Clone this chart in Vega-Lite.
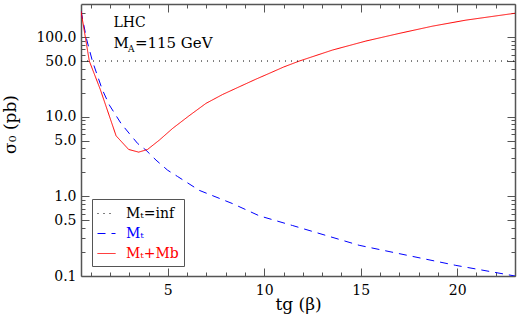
{
  "$schema": "https://vega.github.io/schema/vega-lite/v6.json",
  "width": 434,
  "height": 272,
  "autosize": {"type": "none"},
  "padding": {"left": 81, "top": 4, "right": 4, "bottom": 51},
  "config": {
    "view": {"stroke": null},
    "font": "DejaVu Serif",
    "style": {
      "guide-label": {"font": "DejaVu Serif", "fontWeight": "normal"},
      "guide-title": {"font": "DejaVu Serif", "fontWeight": "normal"}
    },
    "axis": {
      "grid": false,
      "domainColor": "#555555",
      "domainWidth": 1.5,
      "tickColor": "#555555",
      "tickWidth": 1,
      "labelColor": "#000000",
      "titleColor": "#000000",
      "titleFontWeight": "normal",
      "labelOverlap": false,
      "labelFlush": false
    }
  },
  "datasets": {
    "curves": [
      {"series": "inf", "tanb": 0.5, "sigma": 50},
      {"series": "inf", "tanb": 23, "sigma": 50},
      {"series": "mt", "tanb": 0.5, "sigma": 212},
      {"series": "mt", "tanb": 0.8, "sigma": 92},
      {"series": "mt", "tanb": 1.09, "sigma": 50},
      {"series": "mt", "tanb": 1.6, "sigma": 22},
      {"series": "mt", "tanb": 1.97, "sigma": 14},
      {"series": "mt", "tanb": 2.58, "sigma": 8.2},
      {"series": "mt", "tanb": 3.0, "sigma": 6.17},
      {"series": "mt", "tanb": 3.44, "sigma": 4.6},
      {"series": "mt", "tanb": 3.87, "sigma": 3.8},
      {"series": "mt", "tanb": 4.39, "sigma": 2.85},
      {"series": "mt", "tanb": 4.99, "sigma": 2.13},
      {"series": "mt", "tanb": 5.5, "sigma": 1.78},
      {"series": "mt", "tanb": 6.63, "sigma": 1.19},
      {"series": "mt", "tanb": 8.36, "sigma": 0.81},
      {"series": "mt", "tanb": 9.74, "sigma": 0.57},
      {"series": "mt", "tanb": 11.47, "sigma": 0.43},
      {"series": "mt", "tanb": 14.92, "sigma": 0.243},
      {"series": "mt", "tanb": 17.5, "sigma": 0.18},
      {"series": "mt", "tanb": 19.93, "sigma": 0.136},
      {"series": "mt", "tanb": 23, "sigma": 0.1},
      {"series": "mtmb", "tanb": 0.5, "sigma": 212},
      {"series": "mtmb", "tanb": 0.93, "sigma": 50},
      {"series": "mtmb", "tanb": 1.5, "sigma": 22},
      {"series": "mtmb", "tanb": 2.32, "sigma": 5.75},
      {"series": "mtmb", "tanb": 2.97, "sigma": 3.88},
      {"series": "mtmb", "tanb": 3.49, "sigma": 3.59},
      {"series": "mtmb", "tanb": 3.95, "sigma": 3.88},
      {"series": "mtmb", "tanb": 4.56, "sigma": 5.08},
      {"series": "mtmb", "tanb": 5.25, "sigma": 7.13},
      {"series": "mtmb", "tanb": 6.11, "sigma": 10.3},
      {"series": "mtmb", "tanb": 6.98, "sigma": 14.7},
      {"series": "mtmb", "tanb": 7.84, "sigma": 19.0},
      {"series": "mtmb", "tanb": 8.7, "sigma": 23.7},
      {"series": "mtmb", "tanb": 9.57, "sigma": 29.6},
      {"series": "mtmb", "tanb": 10.26, "sigma": 35},
      {"series": "mtmb", "tanb": 11.0, "sigma": 42},
      {"series": "mtmb", "tanb": 11.81, "sigma": 49.9},
      {"series": "mtmb", "tanb": 13.54, "sigma": 68.7},
      {"series": "mtmb", "tanb": 15.27, "sigma": 89.1},
      {"series": "mtmb", "tanb": 16.99, "sigma": 111},
      {"series": "mtmb", "tanb": 18.72, "sigma": 137},
      {"series": "mtmb", "tanb": 20.45, "sigma": 163},
      {"series": "mtmb", "tanb": 23, "sigma": 199}
    ],
    "notes": [
      {"label": "LHC"}
    ]
  },
  "layer": [
    {
      "data": {"name": "curves"},
      "transform": [{"filter": "datum.series !== 'inf'"}],
      "mark": {"type": "line", "strokeWidth": 1, "clip": true},
      "encoding": {
        "x": {
          "field": "tanb", "type": "quantitative",
          "scale": {"domain": [0.5, 23], "nice": false, "zero": false},
          "axis": {
            "orient": "bottom",
            "title": "tg  (β)",
            "labelFont": "DejaVu Serif",
            "titleFont": "DejaVu Serif",
            "labelFontWeight": "normal",
            "titleFontWeight": "normal",
            "labelFontSize": 14,
            "titleFontSize": 17,
            "values": [1,2,3,4,5,6,7,8,9,10,11,12,13,14,15,16,17,18,19,20,21,22,23],
            "tickSize": {"condition": {"test": "datum.value % 5 === 0", "value": -8}, "value": -4},
            "labelExpr": "datum.value % 5 === 0 ? format(datum.value, 'd') : ''",
            "labelPadding": 15,
            "titlePadding": -5
          }
        },
        "y": {
          "field": "sigma", "type": "quantitative",
          "scale": {"type": "log", "domain": [0.1, 260], "nice": false},
          "axis": {
            "orient": "left",
            "title": "σ₀  (pb)",
            "labelFont": "DejaVu Serif",
            "titleFont": "DejaVu Serif",
            "labelFontWeight": "normal",
            "titleFontWeight": "normal",
            "labelFontSize": 14,
            "titleFontSize": 17,
            "values": [0.1,0.2,0.3,0.4,0.5,0.6,0.7,0.8,0.9,1,2,3,4,5,6,7,8,9,10,20,30,40,50,60,70,80,90,100,200],
            "tickSize": {"condition": {"test": "indexof([0.1,0.5,1,5,10,50,100], datum.value) >= 0", "value": -8}, "value": -4},
            "labelExpr": "indexof([0.1,0.5,1,5,10,50,100], datum.value) >= 0 ? format(datum.value, '.1f') : ''",
            "labelPadding": 13,
            "titlePadding": 16,
            "titleY": 120
          }
        },
        "color": {
          "field": "series", "type": "nominal",
          "scale": {"domain": ["inf", "mt", "mtmb"], "range": ["#000000", "#0000ff", "#ff0000"]},
          "legend": {
            "orient": "none",
            "legendX": 11,
            "legendY": 195,
            "title": null,
            "symbolType": "stroke",
            "symbolSize": 324,
            "symbolStrokeWidth": 1,
            "labelFont": "DejaVu Serif",
            "labelFontSize": 14,
            "labelOffset": 10,
            "rowPadding": 3,
            "padding": 5,
            "strokeColor": "#555555",
            "fillColor": "#ffffff",
            "labelExpr": "datum.value === 'inf' ? 'Mₜ=inf' : datum.value === 'mt' ? 'Mₜ' : 'Mₜ+Mb'",
            "encode": {
              "labels": {"update": {"fill": {"signal": "datum.value === 'inf' ? '#000000' : datum.value === 'mt' ? '#0000ff' : '#ff0000'"}}}
            }
          }
        },
        "strokeDash": {
          "field": "series", "type": "nominal",
          "scale": {"domain": ["inf", "mt", "mtmb"], "range": [[1, 5], [8, 6], [1, 0]]}
        }
      }
    },
    {
      "data": {"name": "curves"},
      "transform": [{"filter": "datum.series === 'inf'"}],
      "mark": {"type": "line", "strokeWidth": 1, "clip": true},
      "encoding": {
        "x": {
          "field": "tanb", "type": "quantitative",
          "scale": {"domain": [0.5, 23], "nice": false, "zero": false},
          "axis": {
            "orient": "top",
            "title": null,
            "labels": false,
            "values": [1,2,3,4,5,6,7,8,9,10,11,12,13,14,15,16,17,18,19,20,21,22,23],
            "tickSize": {"condition": {"test": "datum.value % 5 === 0", "value": -8}, "value": -4}
          }
        },
        "y": {
          "field": "sigma", "type": "quantitative",
          "scale": {"type": "log", "domain": [0.1, 260], "nice": false},
          "axis": {
            "orient": "right",
            "title": null,
            "labels": false,
            "values": [0.1,0.2,0.3,0.4,0.5,0.6,0.7,0.8,0.9,1,2,3,4,5,6,7,8,9,10,20,30,40,50,60,70,80,90,100,200],
            "tickSize": {"condition": {"test": "indexof([0.1,0.5,1,5,10,50,100], datum.value) >= 0", "value": -8}, "value": -4}
          }
        },
        "color": {"field": "series", "type": "nominal"},
        "strokeDash": {"field": "series", "type": "nominal"}
      }
    },
    {
      "data": {"name": "notes"},
      "mark": {"type": "text", "align": "left", "baseline": "alphabetic", "fontSize": 14, "font": "DejaVu Serif"},
      "encoding": {
        "x": {"datum": 2.18, "type": "quantitative", "axis": null},
        "y": {"datum": 134.7, "type": "quantitative", "axis": null},
        "text": {"value": "LHC"}
      }
    },
    {
      "data": {"name": "notes"},
      "mark": {"type": "text", "align": "left", "baseline": "alphabetic", "fontSize": 15, "font": "DejaVu Serif"},
      "encoding": {
        "x": {"datum": 2.18, "type": "quantitative", "axis": null},
        "y": {"datum": 72.8, "type": "quantitative", "axis": null},
        "text": {"value": "M"}
      }
    },
    {
      "data": {"name": "notes"},
      "mark": {"type": "text", "align": "left", "baseline": "alphabetic", "fontSize": 9, "font": "DejaVu Serif", "dx": 14.5, "dy": 4},
      "encoding": {
        "x": {"datum": 2.18, "type": "quantitative", "axis": null},
        "y": {"datum": 72.8, "type": "quantitative", "axis": null},
        "text": {"value": "A"}
      }
    },
    {
      "data": {"name": "notes"},
      "mark": {"type": "text", "align": "left", "baseline": "alphabetic", "fontSize": 15, "font": "DejaVu Serif", "dx": 21.5},
      "encoding": {
        "x": {"datum": 2.18, "type": "quantitative", "axis": null},
        "y": {"datum": 72.8, "type": "quantitative", "axis": null},
        "text": {"value": "=115 GeV"}
      }
    }
  ],
  "resolve": {"axis": {"x": "independent", "y": "independent"}}
}
